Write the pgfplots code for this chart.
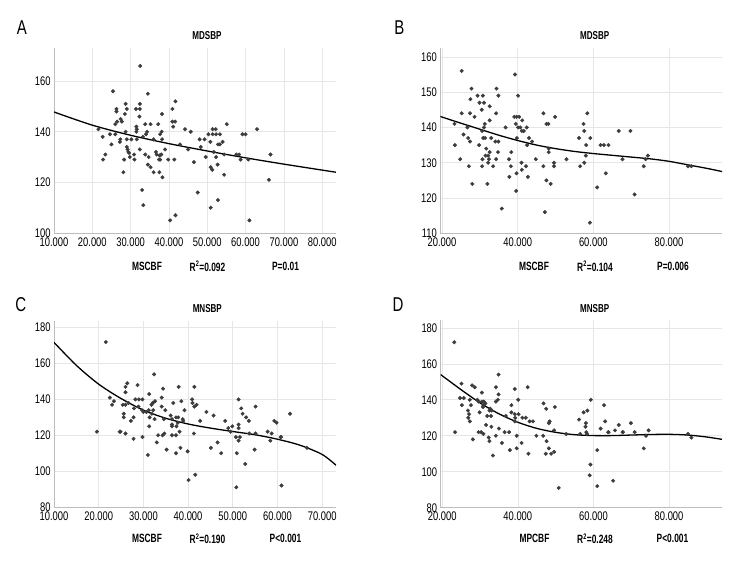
\documentclass[border=0pt]{standalone}
\usepackage{fontspec}
\setmainfont{Liberation Sans}[FakeStretch=0.75]
\newfontfamily\labelfont{Liberation Sans}[FakeStretch=0.7]
\usepackage{pgfplots}
\pgfplotsset{compat=1.18}

\definecolor{gridgray}{HTML}{E6E6E6}
\definecolor{axisgray}{HTML}{BDBDBD}
\definecolor{dotgray}{HTML}{3C3C3C}

\pgfplotsset{
  panel/.style={
    scale only axis,
    axis x line*=bottom, axis y line*=left,
    axis line style={draw=axisgray, line width=0.8pt},
    grid=major, major grid style={draw=gridgray, line width=0.6pt},
    major tick length=0pt,
    tick label style={font=\fontsize{12.5}{12.5}\selectfont, text=black},
    xticklabel style={yshift=-1pt},
    /pgf/number format/assume math mode=true,
  },
  dots/.style={only marks, mark=*, mark size=1.8pt, color=dotgray, mark options={fill=dotgray, draw=dotgray}},
  fit/.style={smooth, no marks, black, line width=1.3pt},
}

\newcommand{\lbl}[1]{\labelfont\bfseries\fontsize{12}{12}\selectfont #1}

\begin{document}
\begin{tikzpicture}
\path (0,0) rectangle (756pt,576pt);

% ---------------- A ----------------
\begin{axis}[panel, at={(54pt,343pt)}, anchor=south west,
  width=282pt, height=185.3pt,
  xmin=10, xmax=83.6, ymin=100, ymax=173.2,
  xtick={10,20,...,80},
  xticklabels={10.000,20.000,30.000,40.000,50.000,60.000,70.000,80.000},
  ytick={100,120,140,160}]
\addplot[dots] coordinates {
(32.5,166) (25.4,156) (34.5,155) (41.7,152) (28.7,151) (32.4,151)
(26.3,149) (29.0,149) (31.4,149) (32.4,149) (40.9,149) (26.3,148)
(38.2,147) (28.5,147) (32.3,146) (27.4,145) (26.5,144) (27.7,144)
(40.9,144) (41.6,144) (26.0,143) (33.8,143) (35.2,143) (37.2,143)
(55.1,143) (31.5,142) (41.1,142) (31.6,141) (21.6,141) (44.2,141)
(51.4,141) (52.2,141) (63.0,141) (28.7,140) (31.5,140) (34.3,140)
(38.1,140) (45.7,140) (37.7,139) (59.2,139) (60.0,139) (50.3,139)
(51.4,139) (52.3,139) (53.3,139) (24.6,139) (34.0,139) (22.7,138)
(26.0,139) (27.3,137) (29.0,137) (30.2,137) (31.6,137) (33.2,138)
(36.0,137) (38.2,137) (48.0,137) (49.3,137) (50.8,136) (42.9,135)
(52.8,135) (53.3,135) (54.0,136) (25.0,135) (27.2,136) (29.0,134)
(29.2,133) (29.4,132) (29.6,131.6) (32.4,133) (30.9,131) (31.0,129)
(29.8,130) (22.8,129) (23.4,131) (28.3,129) (28.1,124) (33.8,131)
(34.7,130) (34.5,127) (35.2,126) (36.0,124) (37.5,124) (38.3,122)
(36.6,132) (36.8,131) (37.6,130.6) (38.0,131) (37.7,129) (37.4,129)
(39.0,133) (39.8,129) (41.4,129) (45.0,133) (46.5,128) (48.3,134)
(49.6,130) (50.9,126) (51.3,125) (52.3,130) (52.7,127) (51.7,132)
(54.4,131) (54.4,123) (57.6,131) (58.3,131) (58.7,129) (60.7,129)
(66.5,131) (66.1,121) (33.0,117) (33.3,111) (47.5,116) (40.3,105)
(41.7,107) (50.9,110) (52.8,113) (61.0,105)
};
\addplot[fit] coordinates {
(10,147.8) (20,142.6) (30,138.6) (40,135.3) (50,132.4) (60,129.7) (70,127.2) (83.6,124)
};
\end{axis}

% ---------------- B ----------------
\begin{axis}[panel, at={(440.3pt,342.7pt)}, anchor=south west,
  width=281.7pt, height=185.6pt,
  xmin=19.55, xmax=94, ymin=110, ymax=162.6,
  xtick={20,40,60,80},
  xticklabels={20.000,40.000,60.000,80.000},
  ytick={110,120,...,160}]
\addplot[dots] coordinates {
(25.2,156) (39.3,155) (27.8,151) (34.4,151) (27.5,148) (29.4,149)
(30.8,149) (34.9,149) (40.1,149) (29.9,147) (31.1,147) (32.6,146)
(30.5,145) (25.2,144) (27.4,144) (34.3,144) (28.6,143) (46.8,144)
(49.9,143) (58.4,144) (39.1,143) (39.7,143) (40.4,143) (32.6,142)
(41.2,142) (23.3,141) (31.3,141) (39.5,141) (40.7,140) (47.6,141)
(48.1,141) (57.4,141) (26.7,140) (31.1,140) (36.8,140) (40.1,140)
(42.4,140) (66.7,139) (69.8,139) (25.7,138) (30.6,139) (41.1,139)
(41.6,139) (57.6,139) (26.9,137) (27.4,136) (30.9,137) (31.4,137)
(33.0,137) (34.1,136) (34.9,136) (39.8,137) (43.0,137) (43.8,136)
(56.2,137) (59.2,137) (23.4,135) (29.8,135) (42.5,135) (58.1,135)
(61.9,135) (62.8,135) (64.0,135) (31.7,134) (32.6,133) (24.8,131)
(27.1,129) (28.0,124) (30.7,131) (30.6,129) (31.5,132) (32.2,132)
(32.4,131) (32.2,130) (32.0,124) (33.5,129) (34.3,131) (34.8,133)
(35.8,117) (37.7,131) (38.2,129) (37.8,126) (38.3,133) (39.7,127)
(39.6,122) (41.0,130) (41.1,128) (42.2,129) (42.7,126) (44.8,131)
(46.8,129) (47.6,125) (47.2,116) (48.2,134) (48.2,133) (48.7,124)
(49.6,130) (49.6,129) (52.9,131) (56.5,129) (57.6,130) (58.0,132)
(61.0,123) (59.1,113) (63.3,127) (67.7,131) (70.9,121) (73.3,129)
(73.8,131) (74.4,132) (85.0,129) (85.9,129)
};
\addplot[fit] coordinates {
(19.55,143.1) (25,141.2) (30,139.5) (35,137.8) (40,136.3) (45,135) (50,134)
(55,133.2) (60,132.6) (65,132.1) (70,131.6) (75,131.1) (80,130.4) (85,129.4)
(90,128.4) (94,127.5)
};
\end{axis}

% ---------------- C ----------------
\begin{axis}[panel, at={(54pt,69pt)}, anchor=south west,
  width=282pt, height=186.3pt,
  xmin=10, xmax=73.1, ymin=80, ymax=183.9,
  xtick={10,20,...,70},
  xticklabels={10.000,20.000,30.000,40.000,50.000,60.000,70.000},
  ytick={80,100,...,180}]
\addplot[dots] coordinates {
(21.6,172) (32.4,154) (26.4,149) (28.7,148) (37.9,147) (41.4,147)
(34.4,146) (26.0,147) (26.0,144) (31.3,143) (22.5,141) (23.0,137)
(23.4,139) (28.2,140) (29.0,140) (29.8,140) (25.4,137) (26.0,137)
(26.7,138) (32.1,138) (32.6,139) (31.8,137) (31.2,134) (34.1,141)
(38.5,139) (40.9,140) (41.0,138) (41.9,137) (41.4,136) (36.7,138)
(39.2,134) (28.9,136) (27.9,135) (29.7,134) (30.0,133) (30.7,133)
(32.2,134) (31.9,132) (34.1,136) (25.6,132) (27.8,130) (25.6,130)
(27.2,128) (44.1,133) (45.7,131) (42.7,128) (48.3,128) (51.3,140)
(51.9,135) (52.2,132) (53.0,130) (53.6,128) (55.1,136) (34.9,134)
(36.1,131) (34.6,129) (36.4,129) (37.3,130) (37.8,130) (38.8,129)
(38.9,128) (32.5,129) (31.3,125) (36.4,125) (36.4,126) (37.4,125)
(37.7,127) (38.1,122) (41.3,121) (31.4,130) (34.3,120) (33.3,120)
(49.0,124) (49.9,125) (51.3,126) (51.3,124) (57.8,122) (59.3,128)
(59.8,127) (62.8,132) (60.7,119) (50.7,119) (51.6,119) (24.7,122)
(24.9,122) (19.6,122) (27.8,118) (29.8,119) (26.0,121) (31.0,109)
(33.0,116) (34.7,121) (35.2,112) (36.4,120) (37.3,120) (37.3,110)
(38.3,113) (39.9,111) (40.1,95) (41.6,98) (45.1,113) (46.6,116)
(47.4,110) (49.5,122) (50.9,110) (51.3,117) (50.8,91) (52.8,104)
(54.9,112) (55.1,121) (58.7,121) (58.4,117) (60.8,119) (60.9,92)
(66.6,113) (53.7,121)
};
\addplot[fit] coordinates {
(10,171.8) (15,159) (20,148.5) (25,140.5) (30,134) (35,129.5) (40,126.3)
(45,124) (50,122.1) (55,120.3) (60,117.8) (65,114.5) (70,109.3) (73.1,103.3)
};
\end{axis}

% ---------------- D ----------------
\begin{axis}[panel, at={(440.7pt,68.3pt)}, anchor=south west,
  width=281.3pt, height=187.4pt,
  xmin=19.6, xmax=94, ymin=80, ymax=184.2,
  xtick={20,40,60,80},
  xticklabels={20.000,40.000,60.000,80.000},
  ytick={80,100,...,180}]
\addplot[dots] coordinates {
(23.2,172) (34.9,154) (25.1,149) (27.9,148) (28.6,147) (34.2,147)
(42.6,147) (39.2,146) (30.5,144) (34.9,143) (24.7,141) (25.7,141)
(27.3,140) (29.3,140) (29.6,139) (30.5,139) (31.0,139) (31.4,138)
(30.9,137) (34.2,139) (34.7,140) (40.1,140) (59.3,140) (25.2,137)
(27.6,137) (30.8,136) (32.7,135) (32.5,134) (33.1,134) (26.8,134)
(27.1,132) (26.9,130) (27.3,128) (29.9,133) (31.9,131) (32.9,131)
(31.6,126) (36.8,131) (38.3,137) (38.3,133) (39.2,132) (39.2,128)
(39.3,130) (40.2,132) (41.2,130) (42.1,130) (43.1,128) (44.0,128)
(46.8,138) (47.5,135) (48.4,128) (48.2,127) (49.8,136) (49.6,123)
(56.2,129) (57.4,133) (58.4,134) (57.9,125) (58.0,127) (61.9,124)
(62.8,137) (63.1,128) (64.0,122) (65.7,123) (66.7,126) (69.9,127)
(67.8,122) (70.9,122) (74.6,123) (23.4,122) (28.1,118) (29.6,122)
(30.3,122) (30.9,121) (32.3,119) (32.5,117) (33.4,109) (34.2,120)
(35.8,116) (37.7,122) (37.9,112) (39.7,120) (39.7,113) (41.0,116)
(42.8,110) (44.9,120) (46.7,120) (47.6,117) (47.4,110) (48.2,113)
(48.8,110) (49.6,111) (50.8,91) (52.8,121) (56.5,121) (58.1,122)
(58.3,121) (59.2,104) (59.0,98) (61.0,112) (61.0,92) (65.2,95)
(63.9,122) (67.7,122) (73.3,113) (73.9,120) (85.0,121) (85.9,119)
(36.5,122) (35.0,124) (33.0,125)
};
\addplot[fit] coordinates {
(19.6,154) (25,145.6) (30,138.3) (35,132.2) (40,127.5) (45,124.1) (50,121.9)
(55,120.6) (60,120.1) (65,120.1) (70,120.4) (75,120.7) (80,120.8) (85,120.4)
(90,119.3) (94,118)
};
\end{axis}

% panel letters
\node[font=\fontsize{20}{20}\selectfont] at (22pt,548pt) {A};
\node[font=\fontsize{20}{20}\selectfont] at (399.3pt,548pt) {B};
\node[font=\fontsize{20}{20}\selectfont] at (20.8pt,271pt) {C};
\node[font=\fontsize{20}{20}\selectfont] at (398pt,271pt) {D};

% titles
\node at (207pt,540pt) {\labelfont\bfseries\fontsize{11.5}{12}\selectfont MDSBP};
\node at (594.7pt,540pt) {\labelfont\bfseries\fontsize{11.5}{12}\selectfont MDSBP};
\node at (207.3pt,267.7pt) {\labelfont\bfseries\fontsize{11.5}{12}\selectfont MNSBP};
\node at (594.7pt,267.7pt) {\labelfont\bfseries\fontsize{11.5}{12}\selectfont MNSBP};

% bottom labels
\node at (147pt,309.8pt) {\lbl{MSCBF}};
\node at (207.5pt,309.8pt) {\lbl{R\textsuperscript{2}=0.092}};
\node at (285.5pt,309.8pt) {\lbl{P=0.01}};
\node at (534pt,309.8pt) {\lbl{MSCBF}};
\node at (595pt,309.8pt) {\lbl{R\textsuperscript{2}=0.104}};
\node at (673pt,309.8pt) {\lbl{P=0.006}};
\node at (147pt,37.2pt) {\lbl{MSCBF}};
\node at (207.5pt,37.2pt) {\lbl{R\textsuperscript{2}=0.190}};
\node at (285.5pt,37.2pt) {\lbl{P<0.001}};
\node at (534.5pt,37.2pt) {\lbl{MPCBF}};
\node at (595pt,37.2pt) {\lbl{R\textsuperscript{2}=0.248}};
\node at (672.5pt,37.2pt) {\lbl{P<0.001}};
\end{tikzpicture}
\end{document}
